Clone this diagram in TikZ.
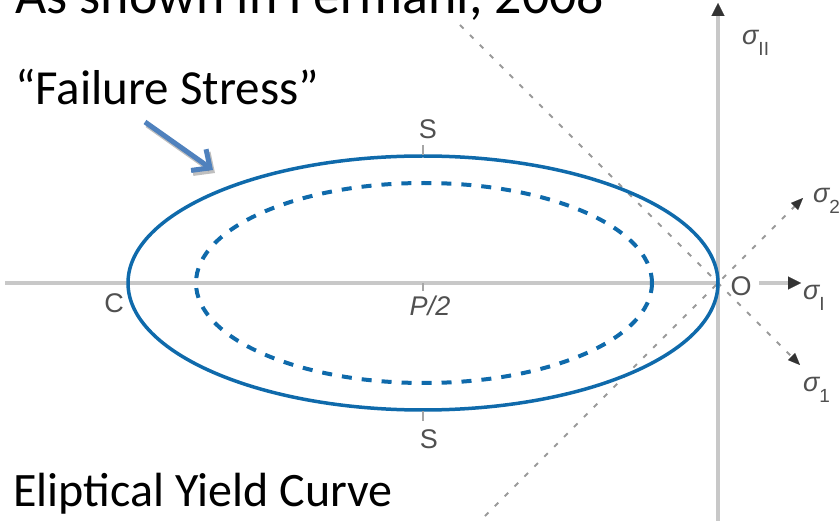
\documentclass[tikz,border=0pt]{standalone}
\usepackage{fontspec}
\setmainfont{Carlito}
\newfontfamily\labfont{Liberation Sans}
\usetikzlibrary{arrows.meta}
\definecolor{ellblue}{HTML}{0F6AAB}
\definecolor{arrblue}{HTML}{4F81BD}
\definecolor{axisgray}{HTML}{C8C8C8}
\definecolor{labgray}{HTML}{505050}
\definecolor{diaggray}{HTML}{9A9A9A}
\newcommand{\sigl}[1]{σ\raisebox{-11pt}{\upshape\fontsize{19}{20}\selectfont #1}}
\begin{document}
\begin{tikzpicture}[x=1pt,y=-1pt,
  axis/.style={draw=axisgray,line width=4pt},
  axtip/.style={-{Triangle[length=13pt,width=13pt,line width=0.1pt,color=black!80]}},
  diag/.style={draw=diaggray,line width=1.8pt,dash pattern=on 5pt off 9pt},
  diagtip/.style={-{Triangle[length=12pt,width=10pt,line width=0.1pt,color=black!80]}},
  lab/.style={text=labgray,font=\labfont\fontsize{27}{28}\selectfont,inner sep=0pt},
  sig/.style={text=labgray,font=\labfont\itshape\fontsize{27}{28}\selectfont,inner sep=0pt,anchor=base west},
  big/.style={inner sep=0pt,anchor=base west},
  tickmark/.style={draw=gray!70,line width=2.5pt},
  solidell/.style={draw=ellblue,line width=3.5pt},
  dashell/.style={draw=ellblue,line width=4pt,dash pattern=on 10pt off 10pt},
]
\useasboundingbox (0,0) rectangle (839,521);
\clip (0,0) rectangle (839,521);

% axes
\coordinate (vbot) at (718,521);
\coordinate (vtop) at (718,3);
\coordinate (hleft) at (5,283);
\coordinate (O0) at (718,283);
\coordinate (hr1) at (759,283);
\coordinate (hr2) at (801,283);
\draw[axis,axtip] (vbot) -- (vtop);
\draw[axis] (hleft) -- (O0);
\draw[axis,axtip] (hr1) -- (hr2);

% diagonal dashed axes
\coordinate (d1a) at (460,25);
\coordinate (d1b) at (800,365);
\coordinate (d2a) at (475,526);
\coordinate (d2b) at (803,198);
\draw[diag,diagtip] (d1a) -- (d1b);
\draw[diag,diagtip] (d2a) -- (d2b);

% ellipses
\draw[solidell] (423,283) ellipse [x radius=295, y radius=127];
\draw[dashell] (424,283) ellipse [x radius=228, y radius=100];

% ticks
\draw[tickmark] (423,145) -- (423,155);
\draw[tickmark] (423,283) -- (423,291);
\draw[tickmark] (423,411) -- (423,421);

% labels
\node[lab] (S1) at (428,129) {S};
\node[lab] (S2) at (429,439) {S};
\node[lab] (P2) at (430,306) {\itshape P/2};
\node[lab] (C) at (114,303) {C};
\node[lab] (O) at (741,286) {O};
\node[sig] (sII) at (742,45) {\sigl{II}};
\node[sig] (s2) at (813,203) {\sigl{2}};
\node[sig] (sI) at (803,300) {\sigl{I}};
\node[sig] (s1) at (803,392) {\sigl{1}};

% texts
\node[big,font=\fontsize{54}{60}\selectfont] (title) at (15,14) {As shown in Fermani, 2008};
\node[big,font=\fontsize{49}{56}\selectfont] (fail) at (15,105) {“Failure Stress”};
\node[big,font=\fontsize{48}{56}\selectfont] (curve) at (13,507) {Eliptical Yield Curve};

% failure arrow
\coordinate (fa1) at (145,122);
\coordinate (fa2) at (213,170);
\draw[line width=5pt,black,opacity=0.25,-{Straight Barb[length=14pt,width=26pt]}] ([shift={(2,3)}]fa1) -- ([shift={(2,3)}]fa2);
\draw[line width=5pt,arrblue,-{Straight Barb[length=14pt,width=26pt]}] (fa1) -- (fa2);
\end{tikzpicture}
\end{document}
